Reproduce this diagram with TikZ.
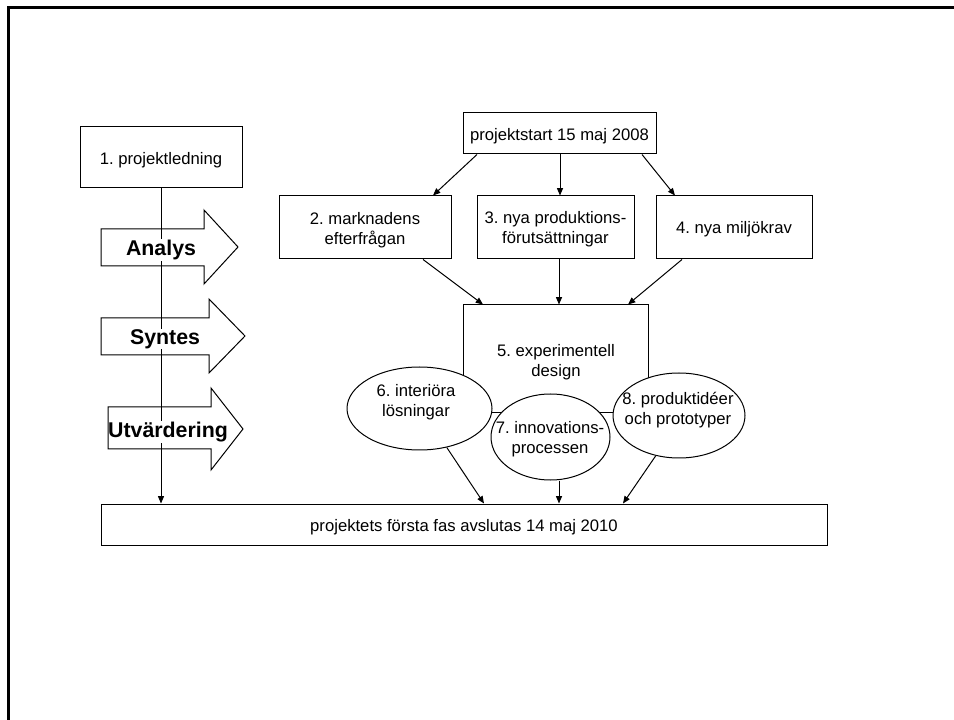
\documentclass[tikz,border=0pt]{standalone}
\usepackage{fontspec}
\setmainfont{Liberation Sans}
\usetikzlibrary{arrows.meta,shapes.geometric}
\frenchspacing
\begin{document}
\begin{tikzpicture}[x=0.75pt,y=-0.75pt,
  every node/.style={font=\fontsize{12.5}{15}\selectfont\frenchspacing, align=center},
  box/.style={draw, line width=0.75pt, fill=white, inner sep=0pt},
  ell/.style={draw, ellipse, line width=0.75pt, fill=white, inner sep=0pt},
  txt/.style={inner sep=0pt},
  arr/.style={line width=0.75pt, -{Triangle[length=5.5pt,width=4.5pt]}},
  blk/.style={draw, line width=0.75pt, line join=miter},
  lbl/.style={font=\fontsize{16}{19}\selectfont\bfseries, fill=white, inner sep=0.5pt}
]
\useasboundingbox (0,0) rectangle (954,720);
\fill[white] (0,0) rectangle (954,720);
\draw[line width=2.25pt] (8.5,720) -- (8.5,8) -- (954,8);

% boxes
\node[box, minimum width=121.5pt, minimum height=45.75pt] (p1) at (161,157.5) {};
\node[txt] (tp1) at (161,160) {1. projektledning};
\node[box, minimum width=144.75pt, minimum height=30.75pt] (ps) at (559.5,133.5) {};
\node[txt] (tps) at (559.5,136) {projektstart 15 maj 2008};
\node[box, minimum width=129pt, minimum height=47.25pt] (b2) at (365,227.5) {};
\node[txt] (tb2) at (365,230) {2. marknadens\\efterfrågan};
\node[box, minimum width=117.75pt, minimum height=47.25pt] (b3) at (555.5,227.5) {};
\node[txt] (tb3) at (555.5,229) {3. nya produktions-\\förutsättningar};
\node[box, minimum width=117pt, minimum height=47.25pt] (b4) at (734,227.5) {};
\node[txt] (tb4) at (734,229.5) {4. nya miljökrav};
\node[box, minimum width=138.75pt, minimum height=81pt] (b5) at (555.5,359) {};
\node[txt] (t5) at (556,362) {5. experimentell\\design};

% ellipses
\node[ell, minimum width=108.75pt, minimum height=62.25pt] (e6) at (419.5,408.5) {};
\node[txt] (t6) at (416,402.5) {6. interiöra\\lösningar};
\node[ell, minimum width=89.25pt, minimum height=64.5pt] (e7) at (550.5,437) {};
\node[txt] (t7) at (550,439.5) {7. innovations-\\processen};
\node[ell, minimum width=99pt, minimum height=63.75pt] (e8) at (679,415.5) {};
\node[txt] (t8) at (678,410.5) {8. produktidéer\\och prototyper};

% final box
\node[box, minimum width=544.5pt, minimum height=30.75pt] (fin) at (464,524.5) {};
\node[txt] (tfin) at (464,527) {projektets första fas avslutas 14 maj 2010};

% connectors
\draw[arr] (ps.south -| 477,0) -- (b2.north -| 433,0);
\draw[arr] (ps.south -| 560,0) -- (b3.north -| 560,0);
\draw[arr] (ps.south -| 642,0) -- (b4.north -| 675,0);
\draw[arr] (b2.south -| 423,0) -- (b5.north -| 483,0);
\draw[arr] (b3.south -| 559,0) -- (b5.north -| 559,0);
\draw[arr] (b4.south -| 682,0) -- (b5.north -| 628,0);
\draw[arr] (e6.-55) -- (fin.north -| 484,0);
\draw[arr] (e7.south -| 559,0) -- (fin.north -| 559,0);
\draw[arr] (e8.-120) -- (fin.north -| 623,0);

% left column
\draw[arr] (p1.south) -- (p1.south |- fin.north);
\node[lbl] (an) at (161,250) {Analys};
\node[lbl] (sy) at (165,339) {Syntes};
\node[lbl] (ut) at (168,432) {Utvärdering};
\draw[blk] (101,229) -- (204,229) -- (204,210) -- (238,247) -- (204,284) -- (204,266) -- (101,266) -- cycle;
\draw[blk] (101,318) -- (209,318) -- (209,299) -- (245,336) -- (209,373) -- (209,355) -- (101,355) -- cycle;
\draw[blk] (108,407) -- (211,407) -- (211,388) -- (243,429) -- (211,470) -- (211,449) -- (108,449) -- cycle;
\end{tikzpicture}
\end{document}
